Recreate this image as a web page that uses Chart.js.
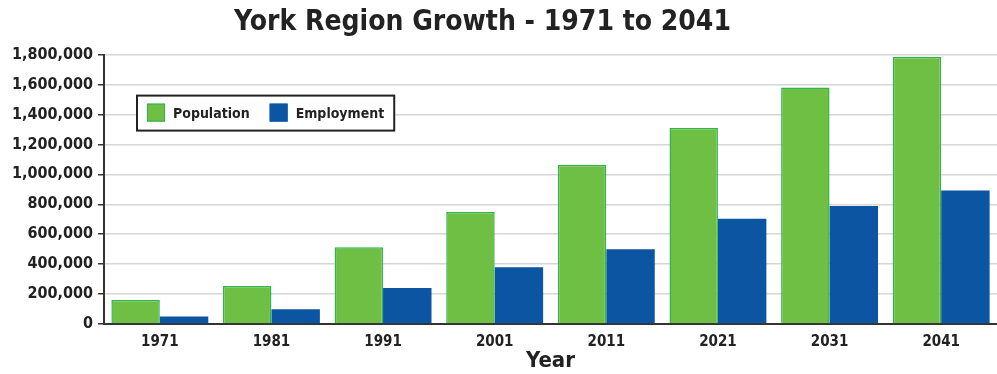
<!DOCTYPE html>
<html>
<head>
<meta charset="utf-8">
<script src="https://cdn.jsdelivr.net/npm/chart.js@4"></script>
<style>
  html, body { margin: 0; padding: 0; background: #fff; }
  #wrap { width: 997px; height: 374px; }
</style>
</head>
<body>
<div id="wrap"><canvas id="myChart"></canvas></div>
<script>
// data
const years = ['1971', '1981', '1991', '2001', '2011', '2021', '2031', '2041'];
const population = [160000, 254000, 513000, 749000, 1063000, 1309000, 1581000, 1784000];
const employment = [50000, 98000, 241000, 379000, 500000, 704000, 789000, 892000];
const yTicks = [0, 200000, 400000, 600000, 800000, 1000000, 1200000, 1400000, 1600000, 1800000];

const FONT = "'Liberation Sans Narrow', 'DejaVu Sans Condensed', 'Arial Narrow', sans-serif";
Chart.defaults.font.family = FONT;
Chart.defaults.font.weight = 'bold';
Chart.defaults.color = '#222';

// legend drawn inside the plot, with a black frame
const boxLegend = {
  id: 'boxLegend',
  afterLayout(chart) {
    // nudge title a bit left, like the original
    chart.titleBlock.right -= 32;
  },
  afterDraw(chart) {
    const ctx = chart.ctx;
    const area = chart.chartArea;
    const x0 = 137, y0 = area.top + 41;
    const sw = 18, gap = 8, itemGap = 20, padX = 10, h = 35;
    ctx.save();
    ctx.font = 'bold 14px ' + FONT;
    ctx.textBaseline = 'middle';
    let x = x0 + padX;
    const items = chart.data.datasets.map(ds => ({ label: ds.label, color: ds.backgroundColor, border: ds.borderColor }));
    let w = padX;
    items.forEach((it, i) => {
      w += sw + gap + ctx.measureText(it.label).width + (i < items.length - 1 ? itemGap : padX);
    });
    ctx.fillStyle = '#fff';
    ctx.fillRect(x0, y0, w, h);
    ctx.strokeStyle = '#222';
    ctx.lineWidth = 2;
    ctx.strokeRect(x0, y0, w, h);
    items.forEach(it => {
      ctx.fillStyle = it.color;
      ctx.fillRect(x, y0 + 8, sw, sw);
      ctx.strokeStyle = it.border;
      ctx.lineWidth = 1;
      ctx.strokeRect(x + 0.5, y0 + 8.5, sw - 1, sw - 1);
      x += sw + gap;
      ctx.fillStyle = '#222';
      ctx.fillText(it.label, x, y0 + h / 2 + 1);
      x += ctx.measureText(it.label).width + itemGap;
    });
    ctx.restore();
  }
};

let data = {
  labels: years,
  datasets: [{
    label: 'Population',
    data: population,
    backgroundColor: '#6fbf44',
    borderColor: '#30b54a',
    borderWidth: 1.5,
    categoryPercentage: 0.868,
    barPercentage: 1.0
  },
  {
    label: 'Employment',
    data: employment,
    backgroundColor: '#0b55a3',
    borderColor: '#0b55a3',
    borderWidth: 0,
    categoryPercentage: 0.868,
    barPercentage: 1.0
  }]
};

let config = {
  type: 'bar',
  data,
  options: {
    responsive: true,
    maintainAspectRatio: false,
    animation: false,
    layout: { padding: { left: 0, right: 0, top: 0, bottom: 0 } },
    plugins: {
      legend: { display: false },
      tooltip: { enabled: false },
      title: {
        display: true,
        text: 'York Region Growth - 1971 to 2041',
        color: '#222',
        font: { size: 28, weight: 'bold' },
        padding: { top: 6, bottom: 15 }
      }
    },
    scales: {
      x: {
        grid: { display: false },
        border: { display: true, color: '#333', width: 2 },
        ticks: { font: { size: 15 }, padding: 1, color: '#222' },
        title: { display: true, text: 'Year', font: { size: 22, weight: 'bold' }, color: '#222', padding: { top: 0, bottom: 0 } },
        afterFit(scale) { scale.height = 50; }
      },
      y: {
        min: 0,
        max: 1800000,
        afterBuildTicks(scale) { scale.ticks = yTicks.map(v => ({ value: v })); },
        grid: { color: '#d6d6d6', lineWidth: 1.5, tickLength: 6, tickColor: '#333' },
        border: { display: true, color: '#333', width: 2 },
        ticks: {
          font: { size: 16 },
          padding: 5,
          color: '#222',
          callback: v => v.toLocaleString('en-US')
        },
        afterFit(scale) { scale.width = 104; }
      }
    }
  },
  plugins: [boxLegend]
};

let myChart = new Chart(document.getElementById('myChart'), config);
</script>
</body>
</html>
